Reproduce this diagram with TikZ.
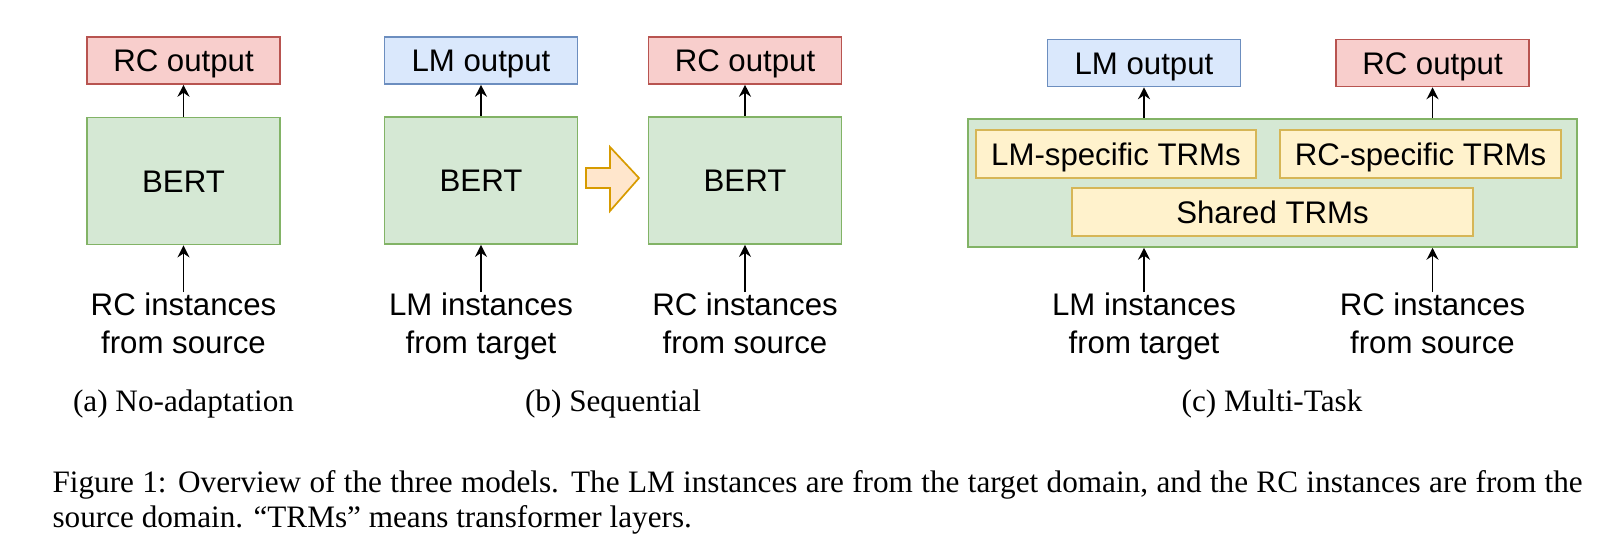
\documentclass[tikz,border=0pt]{standalone}
\usepackage{fontspec}
\setmainfont{Liberation Serif}
\newfontfamily\drawfont{Liberation Sans}
\usepackage{tikz}
\usetikzlibrary{arrows.meta}

\newcommand{\pxl}{0.3526pt}
\definecolor{redfill}{HTML}{F8CECC}
\definecolor{redline}{HTML}{B85450}
\definecolor{bluefill}{HTML}{DAE8FC}
\definecolor{blueline}{HTML}{6C8EBF}
\definecolor{greenfill}{HTML}{D5E8D4}
\definecolor{greenline}{HTML}{82B366}
\definecolor{yellowfill}{HTML}{FFF2CC}
\definecolor{yellowline}{HTML}{D6B656}
\definecolor{orangefill}{HTML}{FFE6CC}
\definecolor{orangeline}{HTML}{D79B00}

\begin{document}
\begin{tikzpicture}[x=\pxl, y=-\pxl,
	box/.style={draw, line width=0.55pt, inner sep=0pt, font=\drawfont\fontsize{11}{13.4}\selectfont, text height=9.9pt, text depth=2pt},
	outred/.style={box, draw=redline, fill=redfill, minimum width=68.05pt, minimum height=16.57pt},
	outblue/.style={box, draw=blueline, fill=bluefill, minimum width=68.05pt, minimum height=16.57pt},
	bertbox/.style={box, draw=greenline, fill=greenfill, minimum width=68.05pt, minimum height=44.9pt},
	trm/.style={box, draw=yellowline, fill=yellowfill, minimum height=16.92pt},
	up/.style={-{Stealth[length=4.2pt,width=4.2pt,inset=1.4pt]}, line width=0.6pt},
	inp/.style={font=\drawfont\fontsize{11}{13.4}\selectfont, align=center, inner sep=0pt, anchor=north},
	sub/.style={font=\fontsize{11}{13.4}\selectfont, anchor=base, inner sep=0pt}]
	\useasboundingbox (0,0) rectangle (1622,551);
	% (a) no adaptation
	\node[outred] (rca) at (183.5,60.5) {RC output};
	\node[bertbox] (berta) at (183.5,181) {BERT};
	\node[inp] (ina) at (183.5,292) {RC instances\\from source};
	\draw[up] (berta.north) -- (rca.south);
	\draw[up] (ina.north) -- (berta.south);
	\node[sub] (capa) at (183.5,411) {(a) No-adaptation};
	% (b) sequential
	\node[outblue] (lmb) at (481,60.5) {LM output};
	\node[bertbox] (bertb) at (481,180.5) {BERT};
	\node[inp] (inb) at (481,292) {LM instances\\from target};
	\draw[up] (bertb.north) -- (lmb.south);
	\draw[up] (inb.north) -- (bertb.south);
	\node[outred] (rcb) at (745,60.5) {RC output};
	\node[bertbox] (bertc) at (745,180.5) {BERT};
	\node[inp] (inc) at (745,292) {RC instances\\from source};
	\draw[up] (bertc.north) -- (rcb.south);
	\draw[up] (inc.north) -- (bertc.south);
	\filldraw[draw=orangeline, fill=orangefill, line width=0.6pt] (586,168) -- (610,168) -- (610,147) -- (639,178) -- (610,211) -- (610,188) -- (586,188) -- cycle; % hollow arrow
	\node[sub] (capb) at (613,411) {(b) Sequential};
	% (c) multi-task
	\node[bertbox, minimum width=214.7pt, minimum height=45.13pt] (mt) at (1272.5,183) {};
	\node[trm, minimum width=98.7pt] (lmtrm) at (1116,154) {LM-specific TRMs};
	\node[trm, minimum width=99.1pt] (rctrm) at (1420.5,154) {RC-specific TRMs};
	\node[trm, minimum width=141.4pt] (shared) at (1272.5,212) {Shared TRMs};
	\node[outblue] (lmc) at (1144,63) {LM output};
	\node[outred] (rcc) at (1432.5,63) {RC output};
	\draw[up] (lmc.south |- mt.north) -- (lmc.south);
	\draw[up] (rcc.south |- mt.north) -- (rcc.south);
	\node[inp] (ind) at (1144,292) {LM instances\\from target};
	\node[inp] (ine) at (1432.5,292) {RC instances\\from source};
	\draw[up] (ind.north) -- (ind.north |- mt.south);
	\draw[up] (ine.north) -- (ine.north |- mt.south);
	\node[sub] (capc) at (1272,411) {(c) Multi-Task};
	% figure caption
	\node[anchor=base west, text width=539.5pt, align=justify, inner sep=0pt, font=\fontsize{11}{12.34}\selectfont] (figcap) at (52,492) {Figure 1: Overview of the three models. The LM instances are from the target domain, and the RC instances are from the source domain. “TRMs” means transformer layers.};
\end{tikzpicture}
\end{document}
